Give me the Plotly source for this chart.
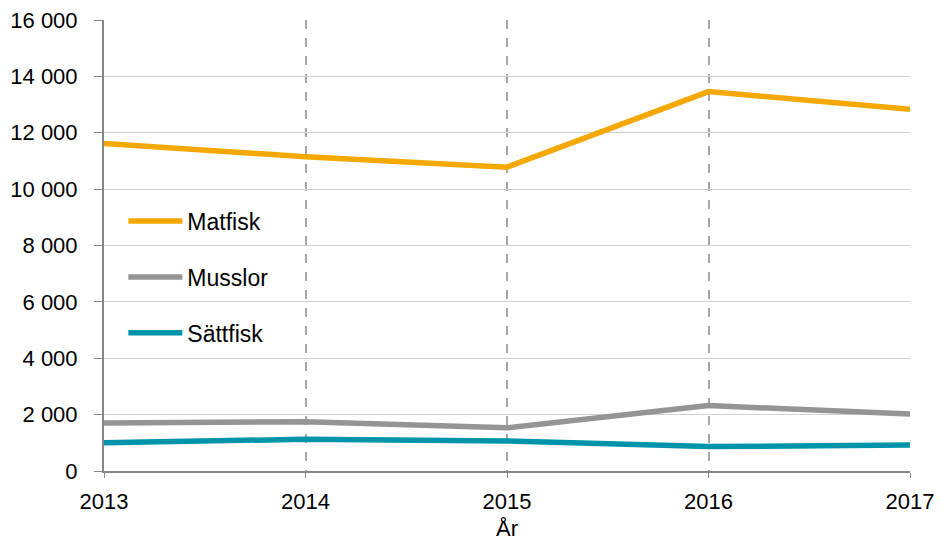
import plotly.graph_objects as go

years = [2013, 2014, 2015, 2016, 2017]
matfisk = [11620, 11150, 10780, 13460, 12830]
musslor = [1705, 1750, 1530, 2320, 2025]
sattfisk = [1005, 1125, 1065, 865, 925]

series = [
    ("Matfisk", matfisk, "#F5A800"),
    ("Musslor", musslor, "#949494"),
    ("Sättfisk", sattfisk, "#0094AA"),
]

fig = go.Figure()
for i, (name, vals, col) in enumerate(series):
    fig.add_trace(go.Scatter(
        x=years, y=vals, name=name, mode="lines",
        line=dict(color=col, width=5.5),
        legendgroup=f"g{i}",
    ))

fig.update_layout(
    width=944, height=540,
    margin=dict(l=96, r=42, t=12, b=77),
    paper_bgcolor="white", plot_bgcolor="white",
    font=dict(family="Liberation Sans, Arial, sans-serif", size=22, color="#000000"),
    separators=", ",
    showlegend=True,
    legend=dict(
        x=0.024, y=0.43, xanchor="left", yanchor="middle",
        bgcolor="rgba(0,0,0,0)", tracegroupgap=23,
        font=dict(size=23), itemwidth=54,
    ),
    xaxis=dict(
        range=[2013, 2017], tickvals=years, ticktext=[str(y) for y in years],
        showgrid=True, gridcolor="#A6A6A6", griddash="dash", gridwidth=1.5,
        showline=True, linecolor="#868686", linewidth=2,
        ticks="outside", ticklen=5, tickcolor="#868686",
        ticklabelstandoff=5, ticklabeloverflow="allow",
        title=dict(text="År", standoff=7, font=dict(size=22)),
        zeroline=False, automargin=False,
    ),
    yaxis=dict(
        range=[0, 16000], dtick=2000, tickformat=",d",
        showgrid=True, gridcolor="#D0D0D0", gridwidth=1,
        showline=True, linecolor="#868686", linewidth=2,
        ticks="outside", ticklen=8, tickcolor="#868686",
        ticklabelstandoff=12, ticklabeloverflow="allow",
        zeroline=False, automargin=False,
    ),
)

fig.write_html("out.html")
